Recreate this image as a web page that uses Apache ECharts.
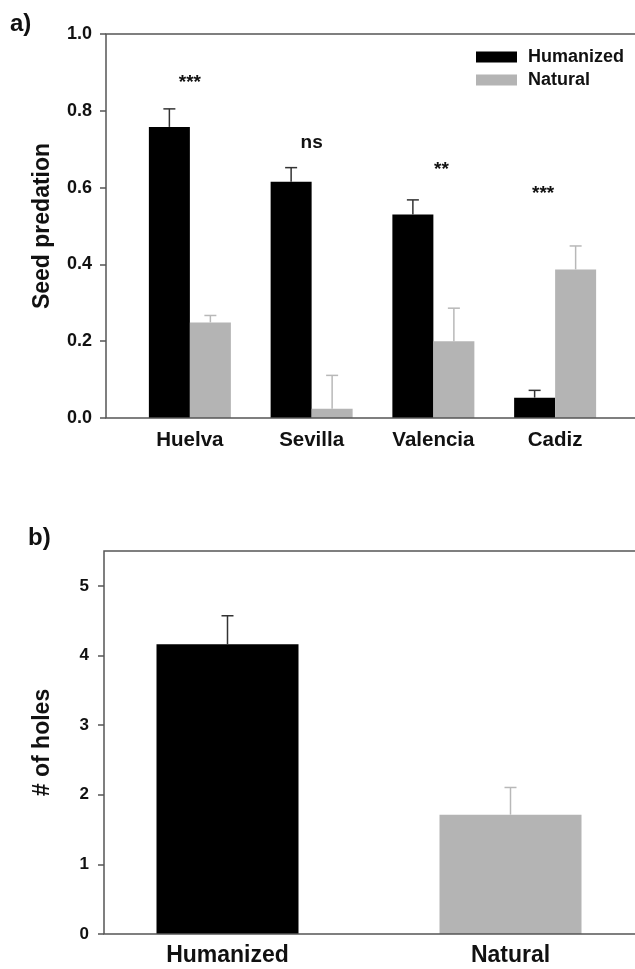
<!DOCTYPE html>
<html>
<head>
<meta charset="utf-8">
<script src="https://cdn.jsdelivr.net/npm/echarts@6/dist/echarts.min.js"></script>
<style>
html,body{margin:0;padding:0;background:#fff;}
#chart{width:635px;height:969px;}
</style>
</head>
<body>
<div id="chart"></div>
<script>
// ---------- Panel a data ----------
const categoriesA = ['Huelva', 'Sevilla', 'Valencia', 'Cadiz'];
const humanizedA = [0.758, 0.615, 0.530, 0.053];
const humanizedErrA = [0.047, 0.037, 0.038, 0.019];
const naturalA = [0.249, 0.024, 0.200, 0.387];
const naturalErrA = [0.018, 0.087, 0.086, 0.061];
const signifTextA = ['***', 'ns', '**', '***'];
const signifYA = [0.872, 0.716, 0.646, 0.583];
const yTicksA = [0.0, 0.2, 0.4, 0.6, 0.8, 1.0];

// ---------- Panel b data ----------
const categoriesB = ['Humanized', 'Natural'];
const holesB = [4.16, 1.714];
const holesErrB = [0.41, 0.39];
const yTicksB = [0, 1, 2, 3, 4, 5];

// ---------- styles ----------
const FONT = '"Liberation Sans", Arial, sans-serif';
const AXIS_COLOR = '#555';
const BLACK = '#000000';
const GRAY = '#b4b4b4';
const ERR_BLACK = '#333333';
const ERR_GRAY = '#b8b8b8';
const BAR_W_A = 41;
const BAR_W_B = 142;
const signifDx = [0, 0, 8, -12];

function errRender(dx, color) {
  return function (params, api) {
    const i = api.value(0);
    const v = api.value(1);
    const e = api.value(2);
    const p0 = api.coord([i, v]);
    const p1 = api.coord([i, v + e]);
    const x = p0[0] + dx;
    return {
      type: 'group',
      children: [
        { type: 'line', shape: { x1: x, y1: p0[1], x2: x, y2: p1[1] }, style: { stroke: color, lineWidth: 1.5 } },
        { type: 'line', shape: { x1: x - 6, y1: p1[1], x2: x + 6, y2: p1[1] }, style: { stroke: color, lineWidth: 1.5 } }
      ]
    };
  };
}

function signifRender(params, api) {
  const i = api.value(0);
  const p = api.coord([i, api.value(1)]);
  return {
    type: 'text',
    x: p[0] + signifDx[params.dataIndex],
    y: p[1],
    style: {
      text: signifTextA[params.dataIndex],
      font: 'bold 19px ' + FONT,
      fill: '#111',
      align: 'center',
      verticalAlign: 'middle'
    }
  };
}

const chart = echarts.init(document.getElementById('chart'), null, { renderer: 'canvas' });

const option = {
  backgroundColor: '#ffffff',
  animation: false,
  graphic: [
    { type: 'text', left: 10, top: 12, style: { text: 'a)', font: 'bold 24px ' + FONT, fill: '#111' } },
    { type: 'text', left: 28, top: 526, style: { text: 'b)', font: 'bold 24px ' + FONT, fill: '#111' } }
  ],
  legend: {
    data: ['Humanized', 'Natural'],
    orient: 'vertical',
    left: 471,
    top: 42,
    icon: 'rect',
    itemWidth: 41,
    itemHeight: 11,
    itemGap: 3,
    selectedMode: false,
    textStyle: { fontFamily: FONT, fontSize: 18, fontWeight: 'bold', color: '#111', padding: [0, 0, 0, 6], lineHeight: 20 }
  },
  grid: [
    // 0: panel a data grid
    { left: 129, width: 487, top: 34, bottom: 551, containLabel: false, outerBoundsMode: 'none' },
    // 1: panel a frame
    { left: 106, width: 600, top: 34, bottom: 551, show: true, borderColor: AXIS_COLOR, borderWidth: 1.5, backgroundColor: 'transparent', z: 10, outerBoundsMode: 'none' },
    // 2: panel b data grid
    { left: 86, width: 566, top: 551, bottom: 35, containLabel: false, outerBoundsMode: 'none' },
    // 3: panel b frame
    { left: 104, width: 600, top: 551, bottom: 35, show: true, borderColor: AXIS_COLOR, borderWidth: 1.5, backgroundColor: 'transparent', z: 10, outerBoundsMode: 'none' }
  ],
  xAxis: [
    {
      gridIndex: 0, type: 'category', data: categoriesA,
      axisLine: { show: false }, axisTick: { show: false },
      axisLabel: { fontFamily: FONT, fontSize: 20.5, fontWeight: 'bold', color: '#111', margin: 12 }
    },
    { gridIndex: 1, type: 'value', show: false },
    {
      gridIndex: 2, type: 'category', data: categoriesB,
      axisLine: { show: false }, axisTick: { show: false },
      axisLabel: { fontFamily: FONT, fontSize: 23, fontWeight: 'bold', color: '#111', margin: 10 }
    },
    { gridIndex: 3, type: 'value', show: false }
  ],
  yAxis: [
    {
      gridIndex: 0, type: 'value', min: 0, max: 1, interval: 0.2, offset: 23,
      name: 'Seed predation', nameLocation: 'middle', nameGap: 52,
      nameTextStyle: { fontFamily: FONT, fontSize: 23, fontWeight: 'bold', color: '#111' },
      axisLine: { show: false },
      axisTick: { show: true, length: 6, lineStyle: { color: AXIS_COLOR, width: 1.5 } },
      splitLine: { show: false },
      axisLabel: { fontFamily: FONT, fontSize: 18, fontWeight: 'bold', color: '#111', margin: 14,
        formatter: function (v) { return yTicksA.indexOf(Math.round(v * 10) / 10) >= 0 ? v.toFixed(1) : ''; } }
    },
    { gridIndex: 1, type: 'value', show: false },
    {
      gridIndex: 2, type: 'value', min: 0, max: 5.5, interval: 1, offset: -18,
      name: '# of holes', nameLocation: 'middle', nameGap: 50,
      nameTextStyle: { fontFamily: FONT, fontSize: 23, fontWeight: 'bold', color: '#111' },
      axisLine: { show: false },
      axisTick: { show: true, length: 6, customValues: yTicksB, lineStyle: { color: AXIS_COLOR, width: 1.5 } },
      splitLine: { show: false },
      axisLabel: { fontFamily: FONT, fontSize: 17, fontWeight: 'bold', color: '#111', margin: 15, customValues: yTicksB,
        formatter: function (v) { return yTicksB.indexOf(v) >= 0 ? String(v) : ''; } }
    },
    { gridIndex: 3, type: 'value', show: false }
  ],
  series: [
    {
      name: 'Humanized', type: 'bar', xAxisIndex: 0, yAxisIndex: 0,
      data: humanizedA, barWidth: BAR_W_A, barGap: '0%',
      itemStyle: { color: BLACK }
    },
    {
      name: 'Natural', type: 'bar', xAxisIndex: 0, yAxisIndex: 0,
      data: naturalA, barWidth: BAR_W_A, barGap: '0%',
      itemStyle: { color: GRAY }
    },
    {
      type: 'custom', xAxisIndex: 0, yAxisIndex: 0, z: 3,
      renderItem: errRender(-BAR_W_A / 2, ERR_BLACK),
      data: categoriesA.map(function (c, i) { return [i, humanizedA[i], humanizedErrA[i]]; })
    },
    {
      type: 'custom', xAxisIndex: 0, yAxisIndex: 0, z: 3,
      renderItem: errRender(BAR_W_A / 2, ERR_GRAY),
      data: categoriesA.map(function (c, i) { return [i, naturalA[i], naturalErrA[i]]; })
    },
    {
      type: 'custom', xAxisIndex: 0, yAxisIndex: 0, z: 3,
      renderItem: signifRender,
      data: categoriesA.map(function (c, i) { return [i, signifYA[i]]; })
    },
    {
      name: 'Holes', type: 'bar', xAxisIndex: 2, yAxisIndex: 2,
      barWidth: BAR_W_B,
      data: holesB.map(function (v, i) { return { value: v, itemStyle: { color: i === 0 ? BLACK : GRAY } }; })
    },
    {
      type: 'custom', xAxisIndex: 2, yAxisIndex: 2, z: 3,
      renderItem: function (params, api) {
        const col = params.dataIndex === 0 ? ERR_BLACK : ERR_GRAY;
        return errRender(0, col)(params, api);
      },
      data: categoriesB.map(function (c, i) { return [i, holesB[i], holesErrB[i]]; })
    }
  ]
};

chart.setOption(option);
</script>
</body>
</html>
